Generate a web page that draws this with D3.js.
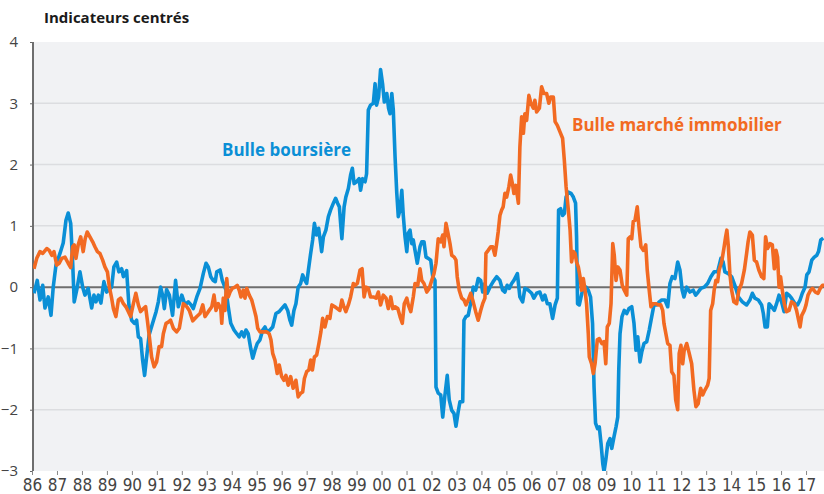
<!DOCTYPE html>
<html lang="fr">
<head>
<meta charset="utf-8" />
<script src="https://d3js.org/d3.v7.min.js"></script>
<style>
  html, body { margin: 0; padding: 0; background: #fff; }
  svg { display: block; }
</style>
</head>
<body>
<svg id="canvas" width="824" height="494"></svg>
<script>
// values, [decimal year, centred indicator]
var bulleBoursiere = [
  [1986.08,-0.10],[1986.21,0.11],[1986.32,-0.21],[1986.43,0.03],[1986.52,-0.34],[1986.65,-0.16],[1986.76,-0.46],[1986.85,0.00],
  [1986.96,0.36],[1987.12,0.55],[1987.25,0.72],[1987.36,1.09],[1987.45,1.21],[1987.55,1.04],[1987.63,0.39],[1987.69,-0.24],
  [1987.79,-0.05],[1987.92,0.25],[1988.03,0.00],[1988.12,-0.13],[1988.25,-0.02],[1988.39,-0.34],[1988.48,-0.13],[1988.56,-0.24],
  [1988.66,-0.13],[1988.76,-0.26],[1988.88,0.09],[1988.99,-0.08],[1989.19,0.00],[1989.28,0.33],[1989.39,0.41],[1989.48,0.25],
  [1989.59,0.30],[1989.66,0.17],[1989.79,0.27],[1989.88,-0.29],[1989.99,-0.54],[1990.10,-0.59],[1990.19,-0.54],[1990.26,-0.81],
  [1990.35,-0.84],[1990.43,-1.19],[1990.51,-1.44],[1990.59,-1.14],[1990.69,-0.78],[1990.83,-0.59],[1990.97,-0.40],[1991.06,-0.24],
  [1991.15,0.00],[1991.23,-0.13],[1991.30,-0.35],[1991.39,-0.04],[1991.50,-0.13],[1991.63,-0.46],[1991.75,0.11],[1991.86,-0.32],
  [1992.00,-0.13],[1992.13,-0.29],[1992.26,-0.24],[1992.37,-0.29],[1992.46,-0.35],[1992.60,-0.16],[1992.73,-0.02],[1992.86,0.22],
  [1992.97,0.39],[1993.06,0.33],[1993.16,0.17],[1993.26,0.11],[1993.34,0.09],[1993.40,0.25],[1993.53,0.28],[1993.62,0.11],
  [1993.77,-0.05],[1993.86,-0.32],[1993.96,-0.59],[1994.09,-0.70],[1994.20,-0.76],[1994.30,-0.81],[1994.40,-0.73],[1994.49,-0.81],
  [1994.57,-0.70],[1994.66,-0.76],[1994.76,-1.00],[1994.84,-1.16],[1994.93,-1.03],[1995.02,-0.92],[1995.13,-0.86],[1995.24,-0.70],
  [1995.33,-0.65],[1995.42,-0.73],[1995.53,-0.70],[1995.64,-0.65],[1995.77,-0.43],[1995.90,-0.40],[1996.00,-0.35],[1996.13,-0.29],
  [1996.24,-0.38],[1996.33,-0.54],[1996.40,-0.62],[1996.49,-0.38],[1996.57,-0.27],[1996.66,0.00],[1996.76,0.06],[1996.84,0.20],
  [1996.93,0.11],[1997.00,0.06],[1997.07,0.28],[1997.16,0.55],[1997.24,0.77],[1997.31,1.04],[1997.40,0.85],[1997.48,0.96],
  [1997.56,0.71],[1997.60,0.58],[1997.67,0.82],[1997.77,0.93],[1997.87,1.15],[1997.96,1.26],[1998.07,1.37],[1998.16,1.45],
  [1998.24,1.37],[1998.31,1.31],[1998.36,1.04],[1998.41,0.79],[1998.50,1.31],[1998.57,1.47],[1998.67,1.61],[1998.76,1.83],
  [1998.83,1.94],[1998.90,1.69],[1999.00,1.72],[1999.10,1.77],[1999.16,1.58],[1999.24,1.77],[1999.34,1.72],[1999.40,1.85],
  [1999.47,2.89],[1999.56,2.97],[1999.67,3.00],[1999.74,3.32],[1999.80,2.97],[1999.88,3.10],[1999.96,3.55],[2000.04,3.32],
  [2000.11,3.02],[2000.21,3.16],[2000.28,2.92],[2000.34,2.83],[2000.41,3.16],[2000.47,2.89],[2000.54,2.13],[2000.61,1.53],
  [2000.67,1.15],[2000.74,1.26],[2000.81,1.58],[2000.87,1.17],[2000.94,0.82],[2001.01,0.58],[2001.07,0.88],[2001.14,0.93],
  [2001.21,0.71],[2001.27,0.77],[2001.34,0.60],[2001.43,0.39],[2001.54,0.66],[2001.61,0.74],[2001.70,0.74],[2001.78,0.49],
  [2001.87,0.47],[2001.97,0.44],[2002.05,0.17],[2002.14,0.11],[2002.18,-1.63],[2002.27,-1.73],[2002.37,-1.76],[2002.45,-2.12],
  [2002.53,-1.79],[2002.63,-1.44],[2002.71,-1.84],[2002.81,-2.01],[2002.90,-2.06],[2002.98,-2.27],[2003.07,-2.03],[2003.14,-1.87],
  [2003.25,-1.87],[2003.30,-0.54],[2003.38,-0.48],[2003.47,-0.46],[2003.54,-0.32],[2003.61,-0.18],[2003.67,0.00],[2003.77,-0.05],
  [2003.87,0.14],[2003.97,0.11],[2004.05,-0.08],[2004.14,0.06],[2004.23,-0.10],[2004.34,0.00],[2004.47,0.09],[2004.61,0.17],
  [2004.74,0.11],[2004.85,-0.05],[2004.94,-0.08],[2005.03,0.03],[2005.12,-0.02],[2005.21,0.06],[2005.30,0.11],[2005.44,0.22],
  [2005.54,-0.16],[2005.65,-0.24],[2005.74,-0.02],[2005.88,-0.05],[2006.01,-0.10],[2006.10,-0.18],[2006.21,-0.10],[2006.34,-0.08],
  [2006.45,-0.21],[2006.54,-0.13],[2006.64,-0.27],[2006.74,-0.27],[2006.85,-0.51],[2006.95,-0.29],[2007.04,-0.18],[2007.09,1.26],
  [2007.17,1.28],[2007.25,1.17],[2007.32,1.20],[2007.39,1.47],[2007.48,1.55],[2007.59,1.53],[2007.68,1.47],[2007.77,1.37],
  [2007.81,0.82],[2007.85,-0.27],[2007.92,-0.29],[2007.99,-0.16],[2008.08,0.00],[2008.19,0.00],[2008.28,-0.05],[2008.37,-0.16],
  [2008.45,-0.59],[2008.51,-1.63],[2008.57,-2.22],[2008.65,-2.31],[2008.72,-2.28],[2008.79,-2.55],[2008.86,-2.88],[2008.91,-3.01],
  [2008.98,-2.82],[2009.06,-2.55],[2009.15,-2.47],[2009.22,-2.63],[2009.31,-2.44],[2009.39,-2.28],[2009.46,-2.12],[2009.50,-1.35],
  [2009.55,-0.76],[2009.63,-0.48],[2009.72,-0.38],[2009.82,-0.43],[2009.91,-0.35],[2010.02,-0.32],[2010.11,-0.59],[2010.19,-1.03],
  [2010.26,-0.81],[2010.35,-1.22],[2010.42,-1.06],[2010.51,-0.92],[2010.62,-0.89],[2010.72,-0.70],[2010.82,-0.48],[2010.91,-0.29],
  [2011.02,-0.29],[2011.12,-0.24],[2011.22,-0.21],[2011.35,-0.21],[2011.46,-0.32],[2011.55,0.06],[2011.64,0.17],[2011.75,0.14],
  [2011.86,0.41],[2011.95,0.28],[2012.04,-0.05],[2012.11,-0.16],[2012.22,0.00],[2012.35,-0.08],[2012.48,-0.05],[2012.58,-0.13],
  [2012.68,-0.08],[2012.79,-0.02],[2012.92,0.00],[2013.06,0.06],[2013.19,0.17],[2013.32,0.25],[2013.46,0.25],[2013.59,0.47],
  [2013.68,0.41],[2013.75,0.25],[2013.89,0.22],[2014.02,0.17],[2014.15,0.03],[2014.29,-0.16],[2014.45,-0.24],[2014.62,-0.29],
  [2014.75,-0.21],[2014.85,-0.10],[2014.95,-0.18],[2015.09,-0.21],[2015.22,-0.29],[2015.29,-0.43],[2015.36,-0.65],[2015.45,-0.65],
  [2015.52,-0.27],[2015.62,-0.32],[2015.73,-0.38],[2015.82,-0.27],[2015.92,-0.13],[2016.02,-0.24],[2016.12,-0.40],[2016.22,-0.10],
  [2016.32,-0.13],[2016.42,-0.18],[2016.56,-0.27],[2016.66,-0.29],[2016.76,-0.21],[2016.85,-0.10],[2016.96,0.00],[2017.03,0.20],
  [2017.12,0.25],[2017.23,0.44],[2017.33,0.49],[2017.43,0.52],[2017.50,0.58],[2017.59,0.77],[2017.69,0.80]
];

var bulleImmobilier = [
  [1986.08,0.30],[1986.19,0.47],[1986.32,0.58],[1986.43,0.55],[1986.59,0.63],[1986.69,0.60],[1986.79,0.52],[1986.88,0.58],
  [1986.99,0.36],[1987.09,0.39],[1987.19,0.47],[1987.32,0.49],[1987.45,0.39],[1987.55,0.32],[1987.63,0.66],[1987.69,0.69],
  [1987.76,0.47],[1987.85,0.69],[1987.95,0.82],[1988.05,0.58],[1988.13,0.79],[1988.21,0.90],[1988.32,0.82],[1988.43,0.74],
  [1988.52,0.66],[1988.62,0.58],[1988.72,0.55],[1988.83,0.44],[1988.92,0.33],[1989.02,0.25],[1989.10,0.00],[1989.19,-0.18],
  [1989.26,-0.35],[1989.36,-0.48],[1989.46,-0.21],[1989.55,-0.18],[1989.66,-0.27],[1989.76,-0.32],[1989.86,-0.40],[1989.95,-0.48],
  [1990.06,-0.27],[1990.16,-0.10],[1990.26,-0.29],[1990.35,-0.40],[1990.46,-0.35],[1990.55,-0.32],[1990.62,-0.54],[1990.70,-0.81],
  [1990.79,-1.14],[1990.89,-1.30],[1990.99,-1.22],[1991.09,-0.97],[1991.19,-0.97],[1991.26,-0.76],[1991.37,-0.59],[1991.46,-0.57],
  [1991.55,-0.54],[1991.66,-0.67],[1991.79,-0.73],[1991.90,-0.67],[1992.00,-0.43],[1992.06,-0.27],[1992.20,-0.32],[1992.30,-0.38],
  [1992.44,-0.55],[1992.60,-0.48],[1992.73,-0.43],[1992.84,-0.29],[1992.93,-0.48],[1993.06,-0.40],[1993.20,-0.32],[1993.29,-0.13],
  [1993.37,-0.38],[1993.46,-0.27],[1993.56,-0.35],[1993.60,-0.59],[1993.66,-0.18],[1993.73,-0.38],[1993.80,0.14],[1993.86,-0.16],
  [1993.93,-0.08],[1994.02,-0.02],[1994.13,0.00],[1994.22,0.03],[1994.30,-0.05],[1994.37,-0.16],[1994.46,-0.05],[1994.53,-0.18],
  [1994.60,-0.02],[1994.70,-0.13],[1994.80,-0.21],[1994.89,-0.35],[1994.97,-0.48],[1995.04,-0.67],[1995.13,-0.73],[1995.26,-0.73],
  [1995.40,-0.73],[1995.50,-0.76],[1995.57,-0.86],[1995.64,-1.08],[1995.73,-1.19],[1995.82,-1.41],[1995.90,-1.27],[1996.00,-1.46],
  [1996.09,-1.52],[1996.17,-1.44],[1996.26,-1.60],[1996.36,-1.46],[1996.46,-1.65],[1996.57,-1.52],[1996.66,-1.79],[1996.76,-1.73],
  [1996.84,-1.71],[1996.91,-1.49],[1997.00,-1.38],[1997.09,-1.35],[1997.16,-1.19],[1997.23,-1.35],[1997.31,-1.14],[1997.40,-1.11],
  [1997.49,-0.92],[1997.57,-0.73],[1997.64,-0.51],[1997.73,-0.65],[1997.83,-0.48],[1997.93,-0.51],[1998.01,-0.29],[1998.13,-0.32],
  [1998.23,-0.35],[1998.33,-0.38],[1998.41,-0.21],[1998.49,-0.32],[1998.57,-0.40],[1998.67,-0.29],[1998.76,-0.16],[1998.87,0.06],
  [1998.94,0.03],[1999.03,0.06],[1999.14,0.28],[1999.22,0.30],[1999.30,-0.16],[1999.38,0.00],[1999.47,-0.02],[1999.56,-0.16],
  [1999.67,-0.16],[1999.78,-0.18],[1999.87,-0.08],[1999.96,-0.29],[2000.07,-0.13],[2000.18,-0.18],[2000.27,-0.35],[2000.37,-0.16],
  [2000.45,-0.35],[2000.54,-0.32],[2000.65,-0.35],[2000.74,-0.48],[2000.83,-0.59],[2000.91,-0.27],[2001.01,-0.18],[2001.07,-0.29],
  [2001.17,-0.40],[2001.27,-0.16],[2001.34,0.06],[2001.45,0.03],[2001.54,0.30],[2001.61,0.11],[2001.70,0.06],[2001.81,-0.08],
  [2001.91,-0.02],[2002.01,0.11],[2002.10,0.22],[2002.18,0.39],[2002.27,0.79],[2002.37,0.74],[2002.45,0.85],[2002.50,0.66],
  [2002.58,1.04],[2002.66,0.88],[2002.74,0.71],[2002.81,0.52],[2002.91,0.49],[2002.98,0.44],[2003.03,0.17],[2003.11,-0.05],
  [2003.21,-0.18],[2003.30,-0.21],[2003.38,-0.29],[2003.47,-0.21],[2003.57,-0.10],[2003.67,-0.24],[2003.77,-0.40],[2003.87,-0.54],
  [2003.97,-0.38],[2004.05,-0.27],[2004.14,-0.18],[2004.18,0.55],[2004.27,0.60],[2004.37,0.66],[2004.45,0.66],[2004.54,0.52],
  [2004.61,0.71],[2004.67,0.90],[2004.74,1.17],[2004.81,1.26],[2004.87,1.31],[2004.94,1.53],[2005.01,1.47],[2005.10,1.64],
  [2005.17,1.83],[2005.24,1.69],[2005.30,1.53],[2005.38,1.66],[2005.48,1.37],[2005.54,2.29],[2005.61,2.78],[2005.68,2.51],
  [2005.74,2.83],[2005.81,2.72],[2005.90,3.13],[2005.98,3.00],[2006.08,2.92],[2006.14,3.05],[2006.21,2.86],[2006.32,2.92],
  [2006.41,3.27],[2006.50,3.16],[2006.61,3.16],[2006.70,3.00],[2006.77,3.10],[2006.88,3.10],[2006.95,2.70],[2007.04,2.64],
  [2007.15,2.53],[2007.25,2.43],[2007.32,2.07],[2007.39,1.64],[2007.48,1.26],[2007.55,0.93],[2007.61,0.41],[2007.68,0.58],
  [2007.75,0.55],[2007.81,0.41],[2007.88,0.33],[2007.95,0.17],[2008.01,-0.05],[2008.08,0.14],[2008.15,-0.05],[2008.21,-0.27],
  [2008.28,-0.76],[2008.32,-1.14],[2008.41,-1.25],[2008.48,-1.41],[2008.55,-1.25],[2008.64,-0.86],[2008.72,-0.84],[2008.82,-0.92],
  [2008.91,-0.89],[2008.98,-1.25],[2009.04,-0.65],[2009.12,-0.59],[2009.19,-0.27],[2009.26,0.71],[2009.32,0.52],[2009.39,0.11],
  [2009.46,0.33],[2009.55,0.28],[2009.64,0.03],[2009.72,-0.05],[2009.82,-0.13],[2009.88,0.79],[2009.95,0.82],[2010.02,0.79],
  [2010.08,1.07],[2010.15,1.09],[2010.24,1.31],[2010.31,0.98],[2010.39,0.66],[2010.49,0.60],[2010.58,0.69],[2010.64,0.28],
  [2010.72,-0.05],[2010.79,-0.32],[2010.88,-0.27],[2010.98,-0.27],[2011.08,-0.29],[2011.18,-0.29],[2011.26,-0.38],[2011.31,-0.59],
  [2011.46,-0.92],[2011.55,-0.95],[2011.62,-1.38],[2011.71,-1.44],[2011.78,-1.84],[2011.86,-2.00],[2011.92,-1.08],[2011.99,-0.95],
  [2012.06,-1.25],[2012.12,-1.03],[2012.22,-0.92],[2012.31,-1.06],[2012.42,-1.25],[2012.51,-1.68],[2012.59,-1.95],[2012.68,-1.90],
  [2012.78,-1.65],[2012.86,-1.76],[2012.95,-1.68],[2013.06,-1.60],[2013.12,-1.49],[2013.18,-0.38],[2013.26,-0.27],[2013.32,-0.05],
  [2013.39,0.11],[2013.46,0.09],[2013.52,0.28],[2013.62,0.41],[2013.71,0.63],[2013.78,0.82],[2013.83,0.93],[2013.89,0.66],
  [2013.95,0.22],[2014.02,-0.05],[2014.11,-0.24],[2014.22,-0.27],[2014.31,-0.05],[2014.42,0.06],[2014.53,0.28],[2014.62,0.55],
  [2014.68,0.74],[2014.75,0.90],[2014.85,0.85],[2014.93,0.44],[2015.02,0.41],[2015.11,0.28],[2015.22,0.17],[2015.31,0.14],
  [2015.38,0.82],[2015.46,0.63],[2015.56,0.71],[2015.65,0.69],[2015.73,0.30],[2015.80,0.60],[2015.86,0.49],[2015.92,0.00],
  [2015.98,0.17],[2016.05,-0.05],[2016.13,-0.27],[2016.22,-0.40],[2016.32,-0.38],[2016.42,-0.24],[2016.53,-0.27],[2016.62,-0.38],
  [2016.72,-0.57],[2016.76,-0.65],[2016.83,-0.46],[2016.93,-0.38],[2017.00,-0.29],[2017.08,-0.13],[2017.18,-0.05],[2017.26,-0.02],
  [2017.37,-0.08],[2017.48,-0.10],[2017.57,-0.02],[2017.66,0.03],[2017.72,0.03]
];

var annees = d3.range(1986, 2018);
var graduationsY = [-3, -2, -1, 0, 1, 2, 3, 4];

var titre = "Indicateurs centrés";
var etiquetteBourse = "Bulle boursière";
var etiquetteImmo = "Bulle marché immobilier";

var bleu = "#0a8fd6", orange = "#f26a22";

var svg = d3.select("#canvas");
var gauche = 33, droite = 824, haut = 42, bas = 471;

var x = d3.scaleLinear().domain([1986, 2018]).range([32, 831]);
var y = d3.scaleLinear().domain([-3, 4]).range([bas, haut]);

svg.append("defs").append("clipPath").attr("id", "zone")
  .append("rect").attr("x", gauche).attr("y", haut - 5).attr("width", droite - gauche).attr("height", bas - haut + 5);

// fond gris
svg.append("rect")
  .attr("x", gauche).attr("y", haut)
  .attr("width", droite - gauche).attr("height", bas - haut)
  .attr("fill", "#f1f2f4");

// grille
svg.append("g").selectAll("line")
  .data(graduationsY.filter(function(d){ return d != 0 && d != -3 && d != 4; }))
  .join("line")
  .attr("x1", gauche).attr("x2", droite)
  .attr("y1", function(d){ return y(d); }).attr("y2", function(d){ return y(d); })
  .attr("stroke", "#dcdde0").attr("stroke-width", 1.5);

// axe Y
var axeY = svg.append("g")
  .attr("transform", "translate(" + gauche + ",0)")
  .call(d3.axisLeft(y).tickValues(graduationsY).tickSize(3).tickPadding(12).tickFormat(d3.format("d")));
axeY.select(".domain").remove();
axeY.selectAll(".tick line").attr("stroke", "#666");
axeY.selectAll("text")
  .attr("font-family", "'Open Sans', sans-serif").attr("font-size", 15).attr("fill", "#444");

// axe X
var axeX = svg.append("g")
  .attr("transform", "translate(0," + bas + ")")
  .call(d3.axisBottom(x).tickValues(annees).tickSize(4).tickPadding(4)
    .tickFormat(function(d){ return String(d).slice(2); }));
axeX.select(".domain").remove();
axeX.selectAll(".tick line").attr("stroke", "#888");
axeX.selectAll("text")
  .attr("font-family", "'Liberation Sans Narrow', 'DejaVu Sans Condensed', sans-serif")
  .attr("font-size", 17).attr("fill", "#444");

// ligne zéro et axe vertical
svg.append("line")
  .attr("x1", gauche).attr("x2", droite).attr("y1", y(0)).attr("y2", y(0))
  .attr("stroke", "#6e6e6e").attr("stroke-width", 2);
svg.append("line")
  .attr("x1", gauche).attr("x2", gauche).attr("y1", haut).attr("y2", bas)
  .attr("stroke", "#6e6e6e").attr("stroke-width", 2);

var ligne = d3.line()
  .x(function(d){ return x(d[0]); })
  .y(function(d){ return y(d[1]); });

var courbes = svg.append("g").attr("clip-path", "url(#zone)");
courbes.append("path").datum(bulleBoursiere)
  .attr("d", ligne).attr("fill", "none")
  .attr("stroke", bleu).attr("stroke-width", 3.6).attr("stroke-linejoin", "round");
courbes.append("path").datum(bulleImmobilier)
  .attr("d", ligne).attr("fill", "none")
  .attr("stroke", orange).attr("stroke-width", 3.6).attr("stroke-linejoin", "round");

svg.append("text")
  .attr("x", 44).attr("y", 23)
  .attr("font-family", "'Open Sans', sans-serif").attr("font-weight", "bold")
  .attr("font-size", 15).attr("fill", "#1a1a1a")
  .text(titre);

svg.append("text")
  .attr("x", 222).attr("y", 156)
  .attr("font-family", "'Open Sans', sans-serif").attr("font-weight", "bold")
  .attr("font-size", 17).attr("fill", bleu)
  .text(etiquetteBourse);

svg.append("text")
  .attr("x", 572).attr("y", 131)
  .attr("font-family", "'Open Sans', sans-serif").attr("font-weight", "bold")
  .attr("font-size", 17).attr("fill", orange)
  .text(etiquetteImmo);
</script>
</body>
</html>
